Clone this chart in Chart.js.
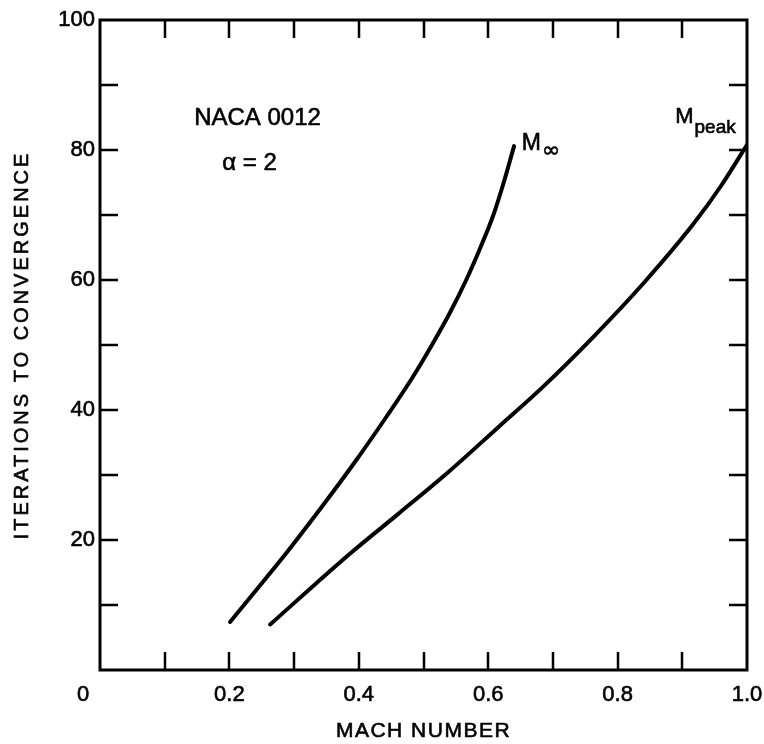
<!DOCTYPE html>
<html lang="en">
  <head>
    <meta charset="UTF-8" />
    <title>Iterations to convergence vs Mach number</title>
    <script src="https://cdn.jsdelivr.net/npm/chart.js@4.4.1/dist/chart.umd.min.js"></script>
    <style>
      html, body { margin: 0; padding: 0; background: #fff; }
    </style>
  </head>
  <body>
    <canvas id="convChart" width="764" height="744"></canvas>

    <script>
      // curve: free-stream Mach number
      const machInf = [0.201, 0.239, 0.288, 0.342, 0.394, 0.443, 0.483, 0.513, 0.541, 0.566, 0.588, 0.608, 0.624, 0.640];
      const itersInf = [7.4, 12.0, 18.0, 25.0, 32.0, 39.0, 45.0, 50.0, 55.0, 60.0, 65.0, 70.0, 75.0, 80.6];

      // curve: peak Mach number
      const machPeak = [0.263, 0.384, 0.462, 0.539, 0.616, 0.685, 0.763, 0.840, 0.917, 0.960, 1.0];
      const itersPeak = [7.0, 17.7, 24.1, 30.5, 37.4, 43.6, 51.3, 59.5, 68.6, 74.5, 80.8];

      const xLabelTicks = [0.2, 0.4, 0.6, 0.8, 1.0];
      const yLabelTicks = [20, 40, 60, 80, 100];

      const FONT = "'Liberation Sans', Arial, sans-serif";

      const toPoints = (xs, ys) => xs.map((v, i) => ({ x: v, y: ys[i] }));

      // draw text a little heavier, like the printed original
      function heavyText(ctx, str, px, py) {
        ctx.strokeText(str, px, py);
        ctx.fillText(str, px, py);
      }

      // frame with inward ticks on all four sides, plus the texts
      const framePlugin = {
        id: "frame",
        afterDraw(chart) {
          const { ctx, chartArea: a } = chart;
          const x = chart.scales.x;
          const y = chart.scales.y;
          const len = 18;
          ctx.save();
          ctx.strokeStyle = "#000";
          ctx.lineWidth = 3;
          ctx.strokeRect(a.left, a.top, a.right - a.left, a.bottom - a.top);

          ctx.lineWidth = 2.5;
          ctx.beginPath();
          x.ticks.forEach((t) => {
            if (t.value <= x.min + 1e-6 || t.value >= x.max - 1e-6) return;
            const px = Math.round(x.getPixelForValue(t.value));
            ctx.moveTo(px, a.bottom);
            ctx.lineTo(px, a.bottom - len);
            ctx.moveTo(px, a.top);
            ctx.lineTo(px, a.top + len);
          });
          y.ticks.forEach((t) => {
            if (t.value <= y.min || t.value >= y.max) return;
            const py = Math.round(y.getPixelForValue(t.value));
            ctx.moveTo(a.left, py);
            ctx.lineTo(a.left + len, py);
            ctx.moveTo(a.right, py);
            ctx.lineTo(a.right - len, py);
          });
          ctx.stroke();

          ctx.fillStyle = "#000";
          ctx.lineWidth = 0.6;

          // the shared origin label
          ctx.font = "22px " + FONT;
          ctx.textAlign = "center";
          ctx.textBaseline = "middle";
          heavyText(ctx, "0", a.left - 17, a.bottom + 25);

          // axis titles
          ctx.letterSpacing = "1.5px";
          ctx.font = "21px " + FONT;
          heavyText(ctx, "MACH NUMBER", (a.left + a.right) / 2, 731);

          ctx.save();
          ctx.translate(22, (a.top + a.bottom) / 2);
          ctx.rotate(-Math.PI / 2);
          ctx.letterSpacing = "3px";
          ctx.font = "20px " + FONT;
          heavyText(ctx, "ITERATIONS TO CONVERGENCE", 0, 0);
          ctx.restore();
          ctx.letterSpacing = "0px";

          // annotations
          ctx.font = "24px " + FONT;
          heavyText(ctx, "NACA 0012", x.getPixelForValue(0.2435), y.getPixelForValue(84.9));
          ctx.font = "24px " + FONT;
          heavyText(ctx, "\u03b1 = 2", x.getPixelForValue(0.231), y.getPixelForValue(78.0));

          ctx.textAlign = "left";
          ctx.textBaseline = "alphabetic";
          let mx = x.getPixelForValue(0.652);
          let my = y.getPixelForValue(80.0);
          ctx.font = "23px " + FONT;
          heavyText(ctx, "M", mx, my);
          let w = ctx.measureText("M").width;
          ctx.font = "22px 'DejaVu Sans', sans-serif";
          heavyText(ctx, "\u221e", mx + w + 1, my + 7);

          mx = x.getPixelForValue(0.889);
          my = y.getPixelForValue(84.2);
          ctx.font = "22px " + FONT;
          heavyText(ctx, "M", mx, my);
          w = ctx.measureText("M").width;
          ctx.font = "19px " + FONT;
          heavyText(ctx, "peak", mx + w + 1, my + 10);
          ctx.restore();
        },
      };

      const lineStyle = {
        borderColor: "#000",
        borderWidth: 4,
        pointRadius: 0,
        fill: false,
        cubicInterpolationMode: "monotone",
        borderCapStyle: "round",
      };

      new Chart(document.getElementById("convChart"), {
        type: "line",
        data: {
          datasets: [
            { label: "M\u221e", data: toPoints(machInf, itersInf), ...lineStyle },
            { label: "Mpeak", data: toPoints(machPeak, itersPeak), ...lineStyle },
          ],
        },
        options: {
          responsive: false,
          animation: false,
          layout: { padding: { left: 0, top: 20, right: 17, bottom: 0 } },
          plugins: { legend: { display: false }, tooltip: { enabled: false } },
          scales: {
            x: {
              type: "linear",
              min: 0,
              max: 1,
              grid: { display: false, drawTicks: true, tickLength: 12 },
              border: { display: false },
              ticks: {
                stepSize: 0.1,
                autoSkip: false,
                maxRotation: 0,
                padding: 0,
                color: "#000",
                textStrokeColor: "#000",
                textStrokeWidth: 0.6,
                font: { family: FONT, size: 22 },
                callback: (v) => {
                  const hit = xLabelTicks.find((t) => Math.abs(t - v) < 1e-6);
                  return hit === undefined ? "" : hit.toFixed(1);
                },
              },
              afterFit: (s) => { s.height = 74; },
            },
            y: {
              min: 0,
              max: 100,
              grid: { display: false, drawTicks: false },
              border: { display: false },
              ticks: {
                stepSize: 10,
                autoSkip: false,
                padding: 5,
                color: "#000",
                textStrokeColor: "#000",
                textStrokeWidth: 0.6,
                font: { family: FONT, size: 22 },
                callback: (v) => (yLabelTicks.includes(v) ? String(v) : ""),
              },
              afterFit: (s) => { s.width = 100; },
            },
          },
        },
        plugins: [framePlugin],
      });
    </script>
  </body>
</html>
